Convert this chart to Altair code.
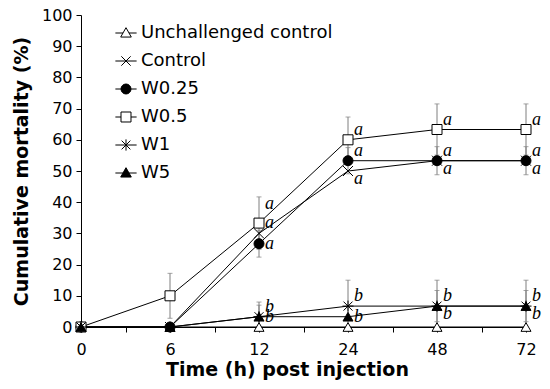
import altair as alt
import pandas as pd

times = ["0", "6", "12", "24", "48", "72"]
series = ["Unchallenged control", "Control", "W0.25", "W0.5", "W1", "W5"]

# cumulative mortality (%)
unch = [0, 0, 0, 0, 0, 0]
control = [0, 0, 30, 50, 53.3, 53.3]
w025 = [0, 0, 26.7, 53.3, 53.3, 53.3]
w05 = [0, 10, 33.3, 60, 63.3, 63.3]
w1 = [0, 0, 3.3, 6.7, 6.7, 6.7]
w5 = [0, 0, 3.3, 3.3, 6.7, 6.7]

# standard deviations
unch_sd = [0, 0, 0, 0, 0, 0]
control_sd = [0, 0, 0, 0, 0, 0]
w025_sd = [0, 0, 4.3, 4.2, 4.5, 4.5]
w05_sd = [0, 7.2, 8.4, 7.3, 8.2, 8.2]
w1_sd = [0, 0, 4.7, 8.3, 8.3, 8.3]
w5_sd = [0, 0, 3.7, 0, 5, 5]

# significance letters and their placement
unch_let = [None] * 6
control_let = [None, None, "a", "a", "a", "a"]
w025_let = [None, None, "a", "a", "a", "a"]
w05_let = [None, None, "a", "a", "a", "a"]
w1_let = [None, None, "b", "b", "b", "b"]
w5_let = [None, None, "b", "b", "b", "b"]

unch_pos = [None] * 6
control_pos = [None, None, "up", "down", "down", "down"]
w025_pos = [None, None, "mid", "up", "up", "up"]
w05_pos = [None, None, "up2", "up", "up", "up"]
w1_pos = [None, None, "up", "up", "up", "up"]
w5_pos = [None, None, "mid", "mid", "down", "down"]

vals = [unch, control, w025, w05, w1, w5]
sds = [unch_sd, control_sd, w025_sd, w05_sd, w1_sd, w5_sd]
lets = [unch_let, control_let, w025_let, w05_let, w1_let, w5_let]
poss = [unch_pos, control_pos, w025_pos, w05_pos, w1_pos, w5_pos]

rows = []
for s, v, sd, lt, ps in zip(series, vals, sds, lets, poss):
    for i, t in enumerate(times):
        rows.append({
            "series": s, "idx": i, "time": t, "value": v[i], "sd": sd[i],
            "lo": max(0, v[i] - sd[i]), "hi": v[i] + sd[i],
            "letter": lt[i], "pos": ps[i],
        })
df = pd.DataFrame(rows)

# point shapes in plot
X_PATH = "M-1,-1L1,1M-1,1L1,-1"
AST_PATH = "M-0.9,-0.9L0.9,0.9M-0.9,0.9L0.9,-0.9M0,-1.1V1.1M-1.1,0H1.1"
plot_shapes = ["triangle-up", X_PATH, "circle", "square", AST_PATH, "triangle-up"]
plot_fills = ["white", "white", "black", "white", "white", "black"]

# legend symbols (shape with connecting line)
L = 1.7
leg_shapes = [
    f"M-{L},0H-0.48M0.48,0H{L}M0,-0.85L0.85,0.65H-0.85Z",
    f"M-{L},0H{L}M-0.75,-0.75L0.75,0.75M-0.75,0.75L0.75,-0.75",
    f"M-{L},0H{L}M0.8,0A0.8,0.8,0,1,1,-0.8,0A0.8,0.8,0,1,1,0.8,0Z",
    f"M-{L},0H-0.8M0.8,0H{L}M-0.8,-0.8H0.8V0.8H-0.8Z",
    f"M-{L},0H{L}M-0.7,-0.7L0.7,0.7M-0.7,0.7L0.7,-0.7M0,-0.9V0.9",
    f"M-{L},0H{L}M0,-0.85L0.85,0.65H-0.85Z",
]
leg_strokes = ["black"] * len(series)

label_js = "[" + ",".join(f"'{t}'" for t in times) + "]"

x_scale = alt.Scale(domain=[0, len(times) - 1], nice=False)
x_axis = alt.Axis(values=[i * 0.5 for i in range(2 * len(times) - 1)],
                  labelExpr=f"datum.value % 1 === 0 ? {label_js}[datum.value] : ''",
                  labelFlush=False, labelOverlap=False, grid=False,
                  tickSize=5, tickColor="black", domainColor="black",
                  labelPadding=9, labelFont="DejaVu Sans", labelFontSize=16,
                  labelColor="black",
                  title="Time (h) post injection", titleFont="DejaVu Sans",
                  titleFontSize=19, titleFontWeight="bold", titleColor="black",
                  titlePadding=3, titleX=206)
y_scale = alt.Scale(domain=[0, 100], nice=False)
y_axis = alt.Axis(values=list(range(0, 101, 10)), grid=False, tickSize=5,
                  labelOverlap=False, labelFlush=False,
                  tickColor="black", domainColor="black", labelPadding=4,
                  labelFont="DejaVu Sans", labelFontSize=16, labelColor="black",
                  title="Cumulative mortality (%)", titleFont="DejaVu Sans",
                  titleFontSize=19, titleFontWeight="bold", titleColor="black",
                  titlePadding=10)


def X(field="idx"):
    return alt.X(f"{field}:Q", scale=x_scale, axis=x_axis)


def Y(field="value"):
    return alt.Y(f"{field}:Q", scale=y_scale, axis=y_axis)


base = alt.Chart(df)
eb = df[df["sd"] > 0]

rules = alt.Chart(eb).mark_rule(color="#7f7f7f", strokeWidth=1).encode(
    x=X(), y=Y("lo"), y2="hi:Q")
caps_hi = alt.Chart(eb).mark_tick(color="#7f7f7f", size=5, thickness=1, orient="horizontal").encode(
    x=X(), y=Y("hi"))
caps_lo = alt.Chart(eb[eb["value"] - eb["sd"] >= 0]).mark_tick(
    color="#7f7f7f", size=5, thickness=1, orient="horizontal").encode(x=X(), y=Y("lo"))

lines = base.mark_line(color="black", strokeWidth=1).encode(
    x=X(), y=Y(), detail="series:N", order="idx:Q")

points = base.mark_point(size=100, stroke="black", strokeWidth=1, opacity=1).encode(
    x=X(), y=Y(),
    shape=alt.Shape("series:N", scale=alt.Scale(domain=series, range=plot_shapes), legend=None),
    fill=alt.Fill("series:N", scale=alt.Scale(domain=series, range=plot_fills), legend=None),
)

legend_layer = base.mark_point(size=156, strokeWidth=1, opacity=0).encode(
    x=X(), y=Y(),
    shape=alt.Shape("series:N", scale=alt.Scale(domain=series, range=leg_shapes),
                    legend=alt.Legend(orient="none", legendX=36, legendY=9, title=None,
                                      labelFont="DejaVu Sans", labelFontSize=18,
                                      labelColor="black", labelLimit=400, labelOffset=6,
                                      rowPadding=10, symbolOpacity=1,
                                      symbolStrokeWidth=1, symbolSize=156)),
    fill=alt.Fill("series:N", scale=alt.Scale(domain=series, range=plot_fills), legend=None),
    stroke=alt.Stroke("series:N", scale=alt.Scale(domain=series, range=leg_strokes), legend=None),
)

dys = {"up2": -19, "up": -10, "mid": 0, "down": 8}
texts = []
lab = df.dropna(subset=["letter"])
for p, dy in dys.items():
    sub = lab[lab["pos"] == p]
    texts.append(alt.Chart(sub).mark_text(font="Liberation Serif", fontStyle="italic",
                                           fontSize=18, align="left", baseline="middle",
                                           dx=6, dy=dy, color="black").encode(
        x=X(), y=Y(), text="letter:N"))

chart = alt.layer(rules, caps_hi, caps_lo, lines, points, legend_layer, *texts).resolve_scale(
    shape="independent", fill="independent", stroke="independent"
).properties(
    width=445, height=312,
    padding={"left": 73, "top": 7, "right": 16, "bottom": 54},
    autosize=alt.AutoSizeParams(type="none"),
).configure_view(stroke=None)

chart.save("out.html", embed_options={"renderer": "svg", "actions": False})
